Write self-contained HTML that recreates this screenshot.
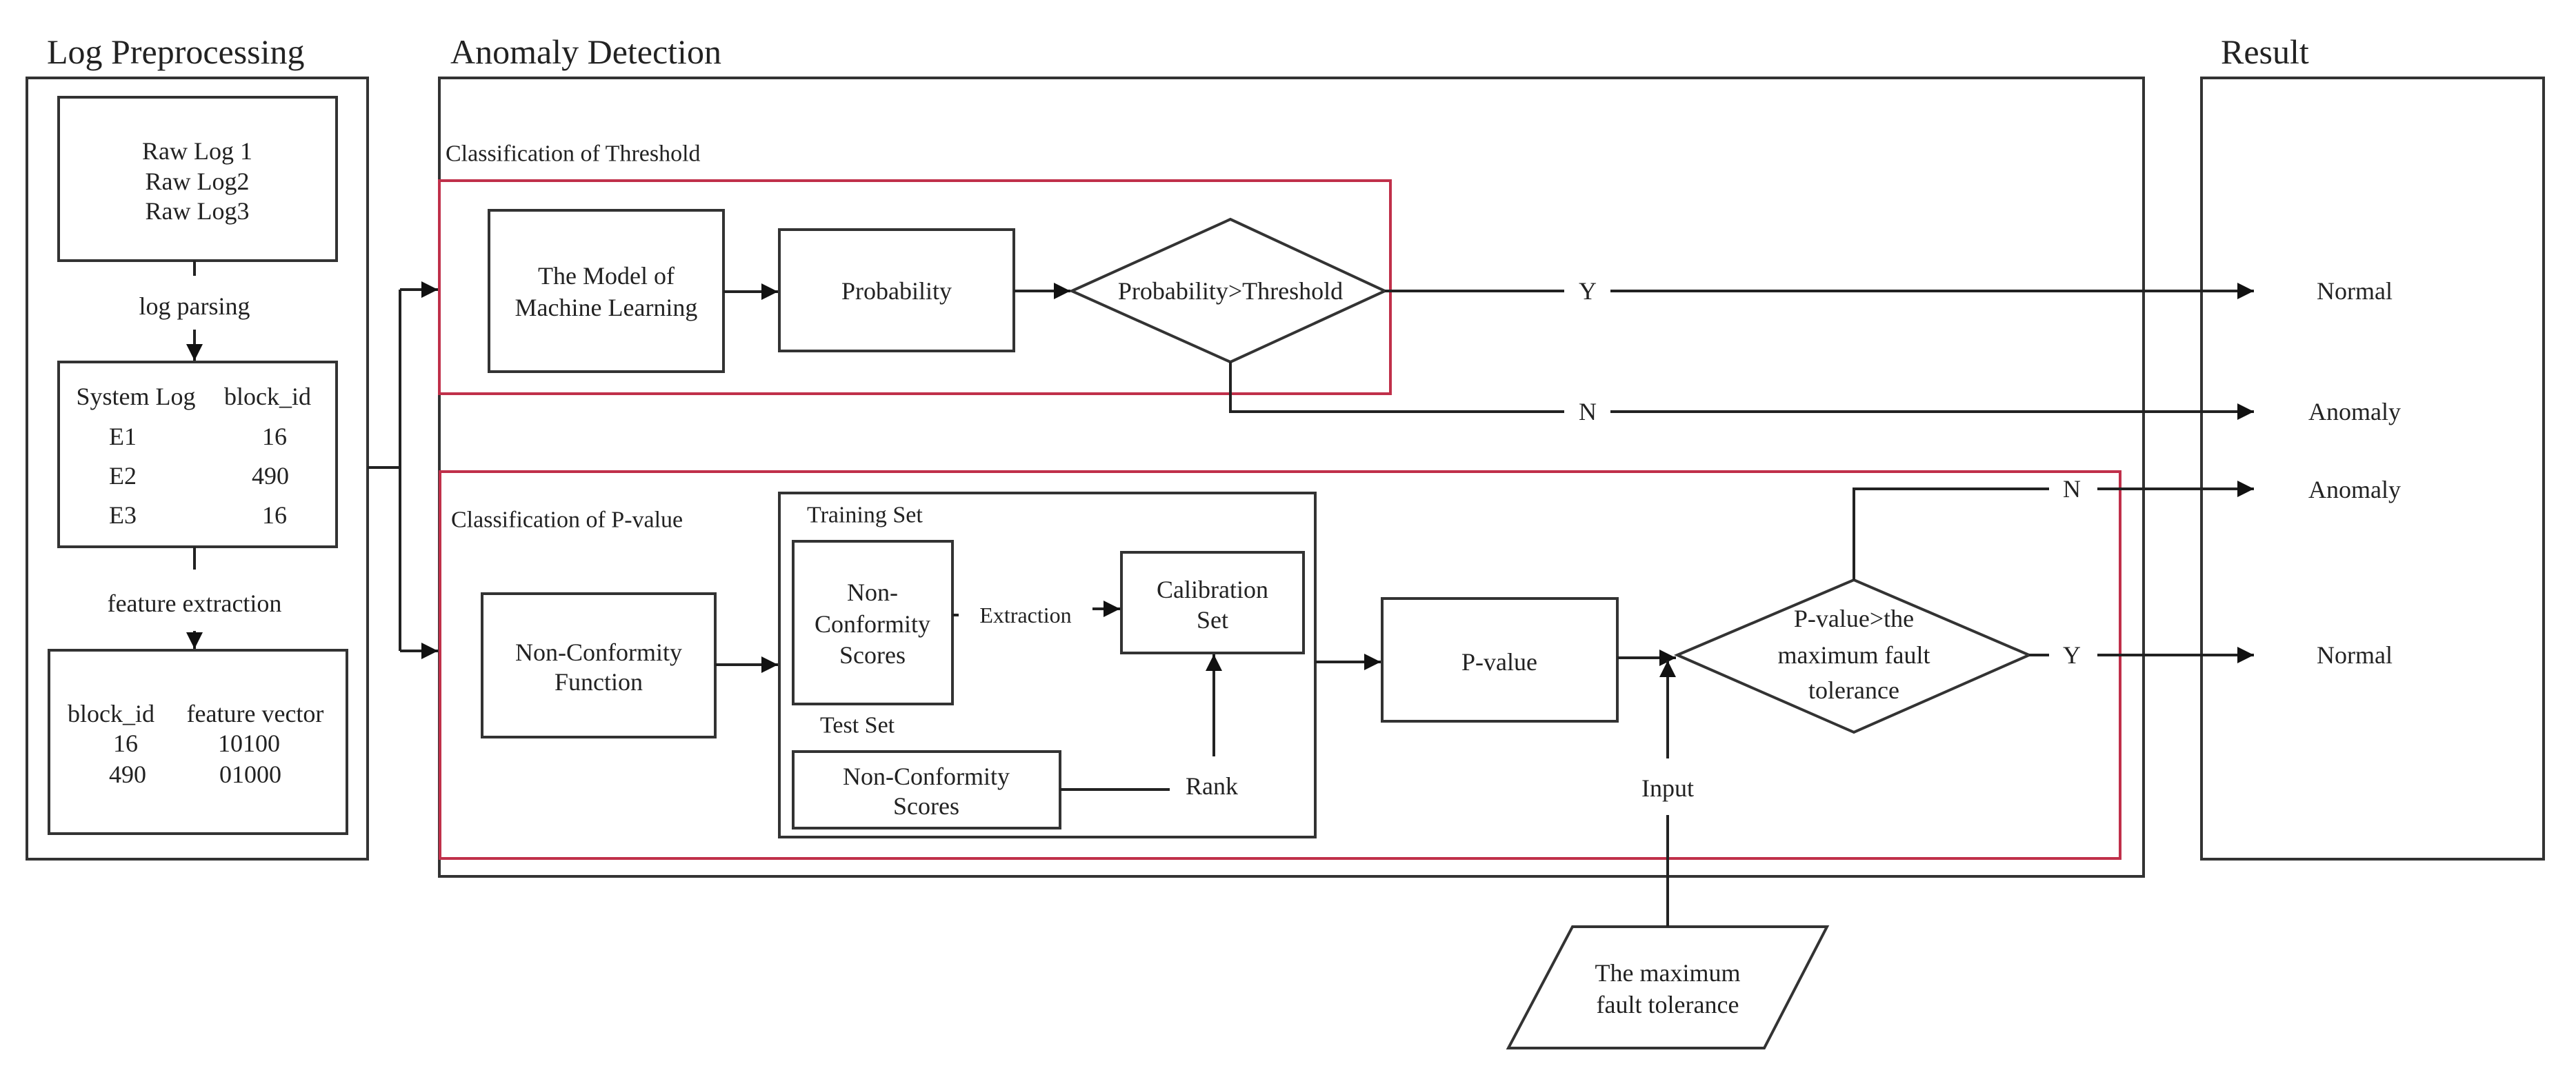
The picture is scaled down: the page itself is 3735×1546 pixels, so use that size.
<!DOCTYPE html>
<html><head><meta charset="utf-8"><style>
html,body{margin:0;padding:0;background:#fff;}
svg{display:block;}
text{font-family:"Liberation Serif",serif;fill:#222;}
</style></head><body>
<svg width="3735" height="1546" viewBox="0 0 3735 1546" xmlns="http://www.w3.org/2000/svg">
<defs>
<marker id="a" viewBox="0 0 10 10" refX="10" refY="5" markerWidth="26" markerHeight="24" markerUnits="userSpaceOnUse" orient="auto"><path d="M0,0 L10,5 L0,10 z" fill="#111"/></marker>
</defs>
<g fill="none" stroke="#333" stroke-width="4">
<rect x="39" y="113" width="494" height="1133"/>
<rect x="637" y="113" width="2471" height="1158"/>
<rect x="3192" y="113" width="496" height="1133"/>
<rect x="85" y="141" width="403" height="237"/>
<rect x="85" y="525" width="403" height="268"/>
<rect x="71" y="943" width="432" height="266"/>
<rect x="709" y="305" width="340" height="234"/>
<rect x="1130" y="333" width="340" height="176"/>
<polygon points="1554,422 1784,318 2008,422 1784,525"/>
<rect x="699" y="861" width="338" height="208"/>
<rect x="1130" y="715" width="777" height="499"/>
<rect x="1150" y="785" width="231" height="236"/>
<rect x="1626" y="801" width="264" height="146"/>
<rect x="1150" y="1090" width="387" height="111"/>
<rect x="2004" y="868" width="341" height="178"/>
<polygon points="2432,950 2688,841 2942,950 2688,1062"/>
<polygon points="2280,1344 2649,1344 2558,1520 2187,1520"/>
</g>
<g fill="none" stroke="#c0304a" stroke-width="4">
<rect x="637" y="262" width="1379" height="309"/>
<rect x="638" y="684" width="2436" height="561"/>
</g>
<g fill="none" stroke="#222" stroke-width="4">
<line x1="282" y1="378" x2="282" y2="400"/>
<line x1="282" y1="478" x2="282" y2="523" marker-end="url(#a)"/>
<line x1="282" y1="793" x2="282" y2="826"/>
<line x1="282" y1="915" x2="282" y2="941" marker-end="url(#a)"/>
<polyline points="533,678 580,678"/>
<polyline points="580,420 580,944"/>
<line x1="580" y1="420" x2="635" y2="420" marker-end="url(#a)"/>
<line x1="580" y1="944" x2="635" y2="944" marker-end="url(#a)"/>
<line x1="1049" y1="423" x2="1128" y2="423" marker-end="url(#a)"/>
<line x1="1470" y1="422" x2="1552" y2="422" marker-end="url(#a)"/>
<line x1="2008" y1="422" x2="2268" y2="422"/>
<line x1="2335" y1="422" x2="3268" y2="422" marker-end="url(#a)"/>
<polyline points="1784,525 1784,597 2268,597"/>
<line x1="2335" y1="597" x2="3268" y2="597" marker-end="url(#a)"/>
<line x1="1037" y1="964" x2="1128" y2="964" marker-end="url(#a)"/>
<line x1="1381" y1="892" x2="1390" y2="892"/>
<line x1="1584" y1="883" x2="1624" y2="883" marker-end="url(#a)"/>
<line x1="1537" y1="1145" x2="1696" y2="1145"/>
<line x1="1760" y1="1097" x2="1760" y2="949" marker-end="url(#a)"/>
<line x1="1907" y1="960" x2="2002" y2="960" marker-end="url(#a)"/>
<line x1="2345" y1="954" x2="2430" y2="954" marker-end="url(#a)"/>
<line x1="2418" y1="1344" x2="2418" y2="1182"/>
<line x1="2418" y1="1100" x2="2418" y2="958" marker-end="url(#a)"/>
<polyline points="2688,841 2688,709 2971,709"/>
<line x1="3041" y1="709" x2="3268" y2="709" marker-end="url(#a)"/>
<line x1="2942" y1="950" x2="2971" y2="950"/>
<line x1="3041" y1="950" x2="3268" y2="950" marker-end="url(#a)"/>
</g>
<g font-size="50">
<text x="68" y="92">Log Preprocessing</text>
<text x="653" y="92">Anomaly Detection</text>
<text x="3220" y="92">Result</text>
</g>
<g font-size="36" text-anchor="middle" dominant-baseline="central">
<text x="286" y="219">Raw Log 1</text>
<text x="286" y="263">Raw Log2</text>
<text x="286" y="306">Raw Log3</text>
<text x="282" y="444">log parsing</text>
<text x="282" y="875">feature extraction</text>
<text x="197" y="575">System Log</text>
<text x="388" y="575">block_id</text>
<text x="178" y="633">E1</text>
<text x="398" y="633">16</text>
<text x="178" y="690">E2</text>
<text x="392" y="690">490</text>
<text x="178" y="747">E3</text>
<text x="398" y="747">16</text>
<text x="161" y="1035">block_id</text>
<text x="370" y="1035">feature vector</text>
<text x="182" y="1078">16</text>
<text x="361" y="1078">10100</text>
<text x="185" y="1123">490</text>
<text x="363" y="1123">01000</text>
<text x="879" y="400">The Model of</text>
<text x="879" y="446">Machine Learning</text>
<text x="1300" y="422">Probability</text>
<text x="1784" y="422">Probability&gt;Threshold</text>
<text x="2302" y="422">Y</text>
<text x="2302" y="597">N</text>
<text x="3414" y="422">Normal</text>
<text x="3414" y="597">Anomaly</text>
<text x="3414" y="710">Anomaly</text>
<text x="3414" y="950">Normal</text>
<text x="3004" y="709">N</text>
<text x="3004" y="950">Y</text>
<text x="868" y="946">Non-Conformity</text>
<text x="868" y="989">Function</text>
<text x="1265" y="859">Non-</text>
<text x="1265" y="905">Conformity</text>
<text x="1265" y="950">Scores</text>
<text x="1487" y="892" font-size="32">Extraction</text>
<text x="1758" y="855">Calibration</text>
<text x="1758" y="899">Set</text>
<text x="1343" y="1126">Non-Conformity</text>
<text x="1343" y="1169">Scores</text>
<text x="1757" y="1140">Rank</text>
<text x="2174" y="960">P-value</text>
<text x="2688" y="897">P-value&gt;the</text>
<text x="2688" y="950">maximum fault</text>
<text x="2688" y="1001">tolerance</text>
<text x="2418" y="1143">Input</text>
<text x="2418" y="1411">The maximum</text>
<text x="2418" y="1457">fault tolerance</text>
</g>
<g font-size="34" dominant-baseline="central">
<text x="646" y="223">Classification of Threshold</text>
<text x="654" y="754">Classification of P-value</text>
<text x="1170" y="747">Training Set</text>
<text x="1189" y="1052">Test Set</text>
</g>
</svg>
</body></html>
